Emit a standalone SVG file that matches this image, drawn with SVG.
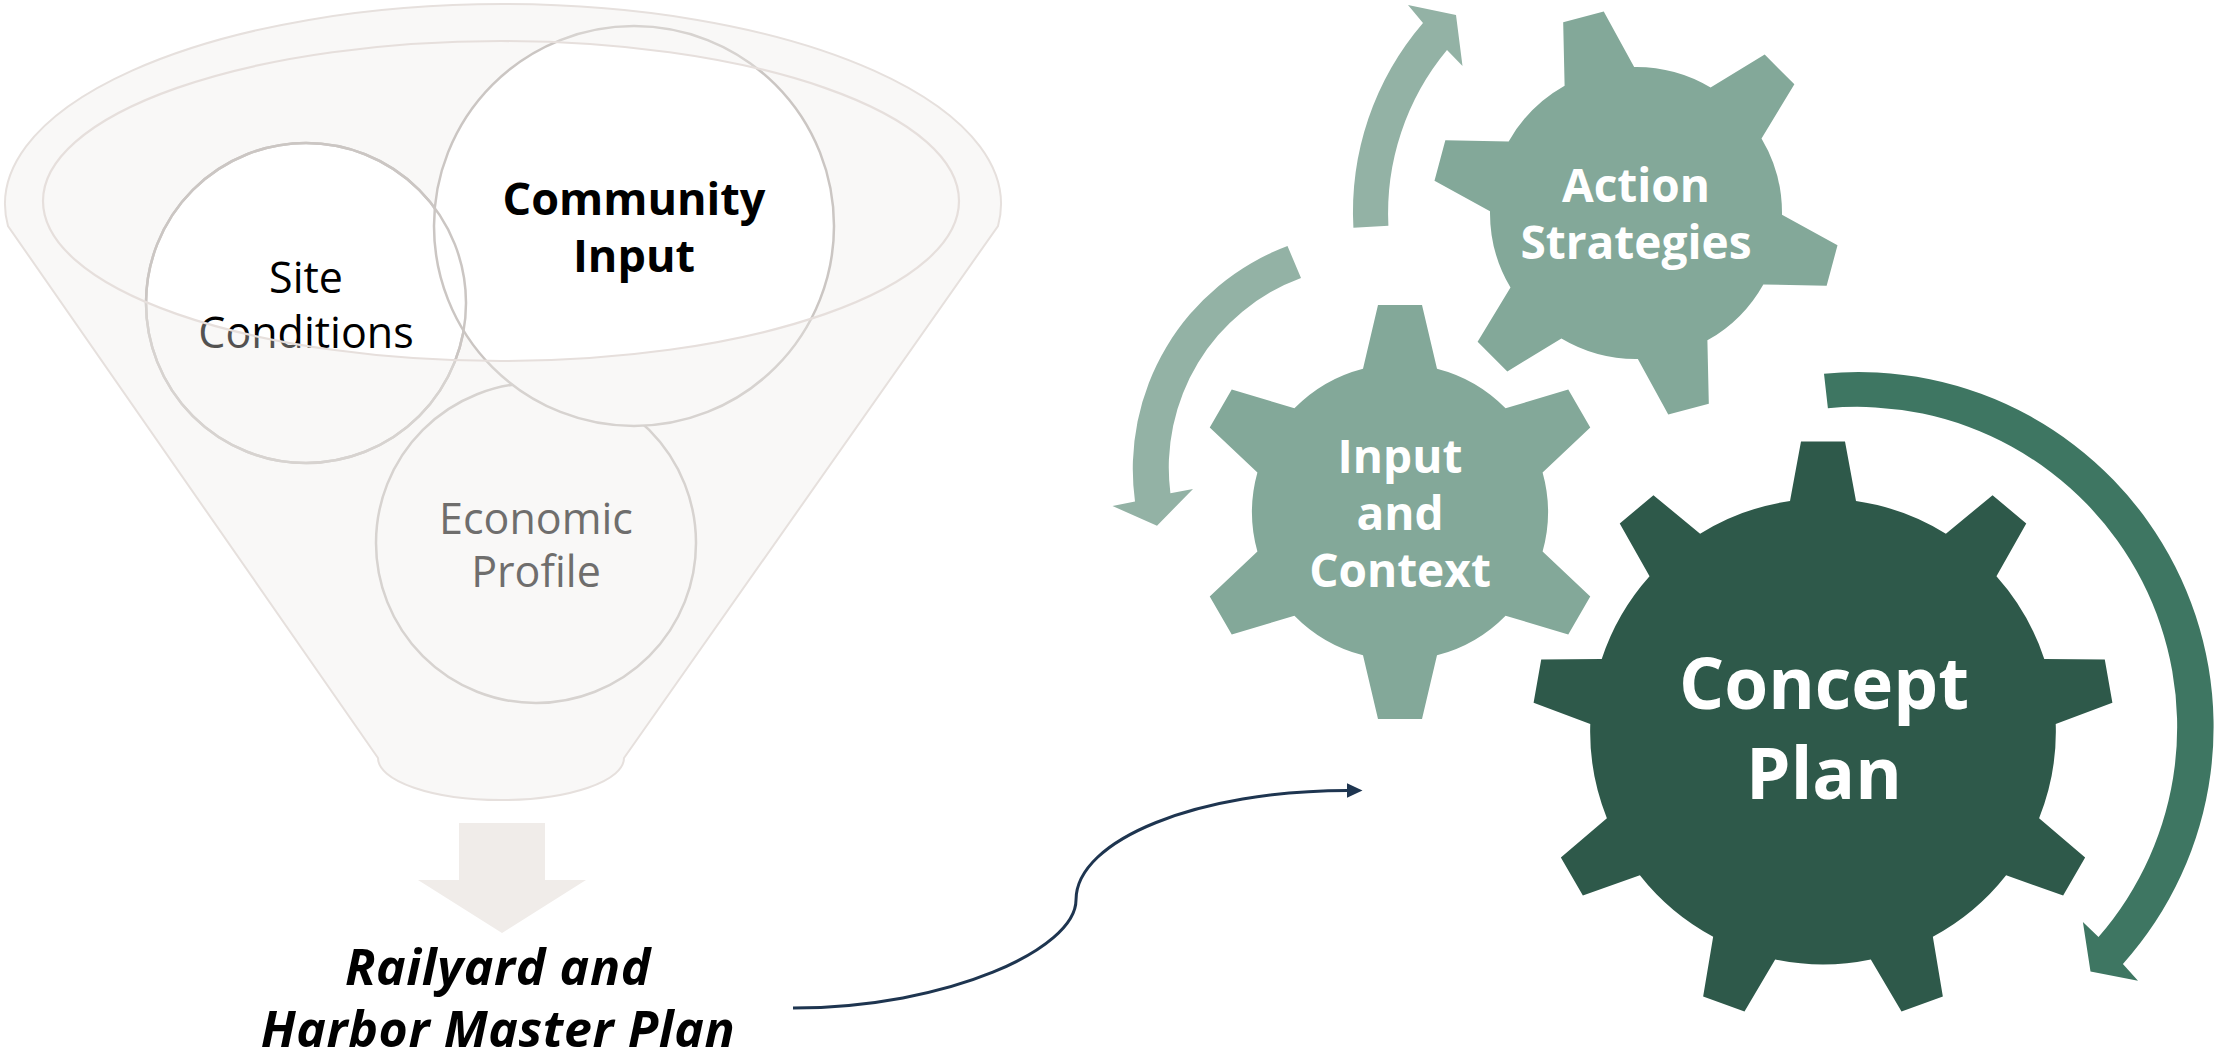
<svg xmlns="http://www.w3.org/2000/svg" width="2214" height="1058" viewBox="0 0 2214 1058">
<style>
  .t { font-family: "Open Sans", "Noto Sans", "DejaVu Sans", sans-serif; text-anchor: middle; }
  .reg { font-weight: 400; font-size: 43px; }
  .bold { font-weight: 700; }
  .circle { stroke: #CBC6C3; stroke-width: 2.5; }
  .gear-light { fill: #83A899; }
  .gear-dark { fill: #2E594A; }
  .arrow-light { fill: #93B2A5; }
  .arrow-dark { fill: #3E7662; }
  .white { fill: #FFFFFF; }
</style>
<defs>
  <marker id="ah" markerUnits="userSpaceOnUse" markerWidth="17" markerHeight="16" refX="1.5" refY="7.5" orient="auto">
    <path d="M0,0 L16,7.5 L0,15 Z" fill="#1E3550"/>
  </marker>
</defs>
<rect width="2214" height="1058" fill="#FFFFFF"/>

<g id="funnel-back">
  <ellipse cx="501" cy="201" rx="458" ry="160" fill="#F9F8F7"/>
</g>

<g id="node-economic">
  <circle cx="536" cy="543" r="160" fill="#FFFFFF" class="circle"/>
  <text class="t reg" x="536" y="533.5" fill="#2B2B2B">Economic</text>
  <text class="t reg" x="536" y="587" fill="#2B2B2B">Profile</text>
</g>

<g id="node-site">
  <circle cx="306" cy="303" r="160" fill="#FFFFFF" class="circle"/>
  <text class="t reg" x="306" y="293" fill="#000000">Site</text>
  <text class="t reg" x="306" y="348" fill="#000000">Conditions</text>
</g>

<g id="node-community">
  <circle cx="634" cy="226" r="200" fill="#FFFFFF" class="circle"/>
  <text class="t bold" x="634" y="214.5" font-size="45" fill="#000000">Community</text>
  <text class="t bold" x="634" y="272" font-size="45" fill="#000000">Input</text>
</g>

<g id="circle-outline">
  <circle cx="306" cy="303" r="160" fill="none" class="circle"/>
</g>

<g id="funnel-front">
  <path d="M 8 226 A 498 200 0 1 1 998 226 L 624 758 A 123 42 0 0 1 378 758 Z M 43 201 A 458 160 0 1 0 959 201 A 458 160 0 1 0 43 201 Z" fill="#EEEAE7" fill-opacity="0.35" fill-rule="evenodd"/>
  <path d="M 8 226 A 498 200 0 1 1 998 226 L 624 758 A 123 42 0 0 1 378 758 Z" fill="none" stroke="#E6E0DD" stroke-width="2"/>
  <ellipse cx="501" cy="201" rx="458" ry="160" fill="none" stroke="#E6DFDC" stroke-width="2.2"/>
</g>

<g id="down-arrow">
  <path d="M 459 823 L 545 823 L 545 880 L 586 880 L 502 933 L 418 880 L 459 880 Z" fill="#F0ECE9"/>
</g>

<g id="node-railyard">
  <text class="t bold" x="498" y="985" font-size="50" font-style="italic" letter-spacing="0.6" fill="#000000">Railyard and</text>
  <text class="t bold" x="498" y="1047" font-size="50" font-style="italic" letter-spacing="0.6" fill="#000000">Harbor Master Plan</text>
</g>

<g id="node-action">
  <path class="gear-light" d="M 1564.61 85.65 L 1563.18 22.35 L 1603.74 11.49 L 1634.15 67.01 A 146 146 0 0 1 1710.59 87.49 L 1764.69 54.61 L 1794.39 84.31 L 1761.51 138.41 A 146 146 0 0 1 1781.99 214.85 L 1837.51 245.26 L 1826.65 285.82 L 1763.35 284.39 A 146 146 0 0 1 1707.39 340.35 L 1708.82 403.65 L 1668.26 414.51 L 1637.85 358.99 A 146 146 0 0 1 1561.41 338.51 L 1507.31 371.39 L 1477.61 341.69 L 1510.49 287.59 A 146 146 0 0 1 1490.01 211.15 L 1434.49 180.74 L 1445.35 140.18 L 1508.65 141.61 A 146 146 0 0 1 1564.61 85.65 Z"/>
  <text class="t bold white" x="1636" y="202" font-size="46">Action</text>
  <text class="t bold white" x="1636" y="259" font-size="46">Strategies</text>
</g>

<g id="node-input">
  <path class="gear-light" d="M 1363 368.7 L 1378 305 L 1422 305 L 1437 368.7 A 148 148 0 0 1 1505.6 408.31 L 1568.26 389.45 L 1590.26 427.55 L 1542.6 472.39 A 148 148 0 0 1 1542.6 551.61 L 1590.26 596.45 L 1568.26 634.55 L 1505.6 615.69 A 148 148 0 0 1 1437 655.3 L 1422 719 L 1378 719 L 1363 655.3 A 148 148 0 0 1 1294.4 615.69 L 1231.74 634.55 L 1209.74 596.45 L 1257.4 551.61 A 148 148 0 0 1 1257.4 472.39 L 1209.74 427.55 L 1231.74 389.45 L 1294.4 408.31 A 148 148 0 0 1 1363 368.7 Z"/>
  <text class="t bold white" x="1400" y="473" font-size="46">Input</text>
  <text class="t bold white" x="1400" y="530" font-size="46">and</text>
  <text class="t bold white" x="1400" y="587" font-size="46">Context</text>
</g>

<g id="node-concept">
  <path class="gear-dark" d="M 1790 501 L 1801 441.5 L 1845 441.5 L 1856 501 A 233 233 0 0 1 1945.89 533.73 L 1992.56 495.22 L 2026.26 523.5 L 1996.45 576.15 A 233 233 0 0 1 2044.27 658.99 L 2104.77 659.49 L 2112.41 702.83 L 2055.73 723.99 A 233 233 0 0 1 2039.11 818.17 L 2085.14 857.45 L 2063.14 895.55 L 2006.11 875.33 A 233 233 0 0 1 1932.84 936.81 L 1942.85 996.49 L 1901.51 1011.53 L 1870.82 959.39 A 233 233 0 0 1 1775.18 959.39 L 1744.49 1011.53 L 1703.15 996.49 L 1713.16 936.81 A 233 233 0 0 1 1639.89 875.33 L 1582.86 895.55 L 1560.86 857.45 L 1606.89 818.17 A 233 233 0 0 1 1590.27 723.99 L 1533.59 702.83 L 1541.23 659.49 L 1601.73 658.99 A 233 233 0 0 1 1649.55 576.15 L 1619.74 523.5 L 1653.44 495.22 L 1700.11 533.73 A 233 233 0 0 1 1790 501 Z"/>
  <text class="t bold white" x="1824" y="709" font-size="71">Concept</text>
  <text class="t bold white" x="1824" y="798.5" font-size="71">Plan</text>
</g>

<g id="connectors">
  <path id="arrow-top" class="arrow-light" d="M 1353.4 227.7 A 290 290 0 0 1 1423 23 L 1408 5 L 1456 15 L 1462.5 66 L 1447 50 A 255 255 0 0 0 1388.4 225.8 Z"/>
  <path id="arrow-left" class="arrow-light" d="M 1287.5 246 A 238 238 0 0 0 1135 501.4 L 1112.5 506 L 1157 525.7 L 1193 489 L 1170.4 493.2 A 202 202 0 0 1 1301 278 Z"/>
  <path id="arrow-right" class="arrow-dark" d="M 1824 373.7 A 355 355 0 0 1 2122.9 964 L 2138 980.8 L 2090.5 971.5 L 2082.9 921.9 L 2098.5 937 A 320 320 0 0 0 1827.9 408.2 Z"/>
  <path id="plan-to-concept" d="M 793 1008 C 948.6 1008, 1076 948.6, 1076 900 C 1076 839.3, 1199 790.5, 1348 790.5" fill="none" stroke="#1E3550" stroke-width="3" marker-end="url(#ah)"/>
</g>
</svg>
